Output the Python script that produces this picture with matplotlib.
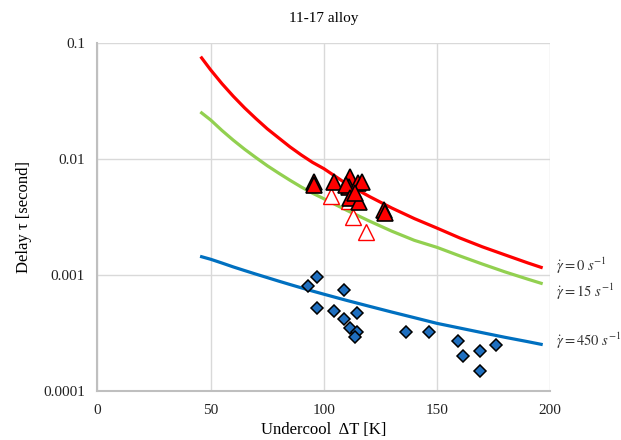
import matplotlib
matplotlib.use("Agg")
import matplotlib.pyplot as plt
from matplotlib.ticker import FixedLocator, NullLocator, FixedFormatter

plt.rcParams['font.family'] = ['Liberation Serif', 'DejaVu Serif']
plt.rcParams['mathtext.fontset'] = 'stix'

# Model curves
curve_x = [46, 50, 55, 60, 65, 70, 75, 80, 85, 90, 95, 100, 110, 120, 130, 140, 150, 160, 170, 180, 190, 196]
tau_0 = [0.0748, 0.0589, 0.0448, 0.0349, 0.0277, 0.0224, 0.0183, 0.0153, 0.0128, 0.0109, 0.0094,
         0.0083, 0.00614, 0.00479, 0.00380, 0.00308, 0.00255, 0.00210, 0.00176, 0.00150, 0.00128, 0.00117]
tau_15 = [0.0251, 0.0218, 0.0177, 0.0146, 0.0122, 0.01033, 0.0088, 0.0076, 0.0066, 0.00577, 0.00510,
          0.00457, 0.00364, 0.00294, 0.00240, 0.00200, 0.00174, 0.00147, 0.00125, 0.00107, 0.000927, 0.000853]
tau_450 = [0.001445, 0.001374, 0.001275, 0.001180, 0.001098, 0.001023, 0.000955, 0.000891, 0.000833,
           0.000780, 0.000731, 0.000687, 0.000608, 0.000541, 0.000482, 0.000431, 0.000385, 0.000351,
           0.000320, 0.000292, 0.000268, 0.000254]

# Measured: filled triangles
filled_x = [95.5, 95.5, 104.4, 111.6, 111.0, 115.0, 116.9, 109.8, 111.6, 115.7, 113.9, 126.7, 127.0]
filled_y = [0.0064, 0.0060, 0.00634, 0.00708, 0.00581, 0.00628, 0.00641, 0.0060, 0.00461, 0.00431,
            0.00509, 0.00366, 0.00347]

# Measured: open triangles
open_x = [103.2, 111.3, 112.8, 118.7]
open_y = [0.00483, 0.00440, 0.0032, 0.00235]

# Measured: diamonds
dia_x = [92.9, 96.9, 96.9, 108.8, 104.7, 108.8, 114.5, 111.6, 114.5, 113.6, 136.3, 146.6,
         159.4, 161.3, 169.1, 176.1, 169.1]
dia_y = [0.000813, 0.000966, 0.000526, 0.000746, 0.000495, 0.000423, 0.000470, 0.000352,
         0.000325, 0.000296, 0.000323, 0.000323, 0.000273, 0.000201, 0.000222, 0.000251, 0.000150]

x_ticks = [0, 50, 100, 150, 200]
y_ticks = [0.0001, 0.001, 0.01, 0.1]
y_tick_labels = ['0.0001', '0.001', '0.01', '0.1']
curve_labels = [r'$\dot{\gamma} = 0\ s^{-1}$', r'$\dot{\gamma} = 15\ s^{-1}$', r'$\dot{\gamma} = 450\ s^{-1}$']
label_y = [0.00121, 0.00072, 0.00027]

fig = plt.figure(figsize=(6.21, 4.40), dpi=100)
ax = fig.add_axes([0.157, 0.1107, 0.729, 0.791])

ax.set_yscale('log')
ax.set_xlim(0, 200)
ax.set_ylim(1e-4, 0.1)

ax.plot(curve_x, tau_0, color='#FF0000', lw=2.3, zorder=3)
ax.plot(curve_x, tau_15, color='#92D050', lw=2.3, zorder=3)
ax.plot(curve_x, tau_450, color='#0070C0', lw=2.3, zorder=3)

ax.plot(filled_x, filled_y, linestyle='none', marker='^', markersize=12,
        markerfacecolor='#FF0000', markeredgecolor='black', markeredgewidth=1.2, zorder=5)
ax.plot(open_x, open_y, linestyle='none', marker='^', markersize=12,
        markerfacecolor='white', markeredgecolor='#FF0000', markeredgewidth=1.0, zorder=4)
ax.plot(dia_x, dia_y, linestyle='none', marker='D', markersize=6.5,
        markerfacecolor='#1F6FBF', markeredgecolor='black', markeredgewidth=1.1, zorder=5)

ax.xaxis.set_major_locator(FixedLocator(x_ticks))
ax.yaxis.set_major_locator(FixedLocator(y_ticks))
ax.yaxis.set_major_formatter(FixedFormatter(y_tick_labels))
ax.yaxis.set_minor_locator(NullLocator())
ax.tick_params(axis='both', length=0, labelsize=11, pad=9, colors='#222222')

ax.grid(True, which='major', color='#D9D9D9', lw=1.0, zorder=0)
for s in ['top', 'right']:
    ax.spines[s].set_visible(False)
for s in ['left', 'bottom']:
    ax.spines[s].set_color('#BFBFBF')
    ax.spines[s].set_linewidth(1.5)

ax.set_title('11-17 alloy', fontsize=11, pad=15)
ax.set_xlabel('Undercool  ΔT [K]', fontsize=12, labelpad=4)
ax.set_ylabel('Delay τ [second]', fontsize=12, labelpad=8)

for lab, yv in zip(curve_labels, label_y):
    ax.text(202.5, yv, lab, fontsize=10.5, color='#333333', va='center', ha='left', clip_on=False)

fig.savefig('out.png', dpi=100)
